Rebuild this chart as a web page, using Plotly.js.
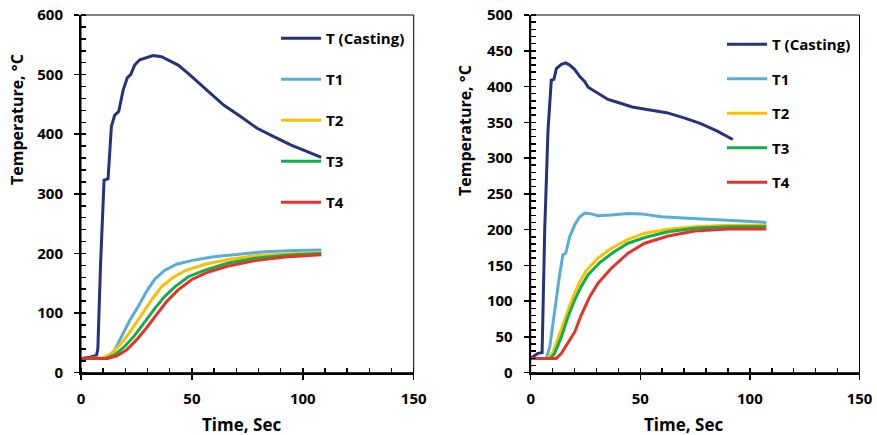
<!DOCTYPE html>
<html>
<head>
<meta charset="utf-8">
<script src="https://cdn.plot.ly/plotly-3.0.1.min.js"></script>
<style>html,body{margin:0;padding:0;background:#fff;}#chart{width:877px;height:435px;}</style>
</head>
<body>
<div id="chart"></div>
<script>
// ---- Data (left chart) ----
var seriesNames = ["T (Casting)", "T1", "T2", "T3", "T4"];
var xTitle = "Time, Sec";
var yTitle = "Temperature, \u00B0C";
var tcL = [0, 4, 7, 7.6, 8.8, 10.4, 12.2, 13, 13.7, 15.2, 17, 19, 20.9, 22.4, 24.2, 26.5, 28.8, 32.5, 36.3, 40, 43.8, 48.3, 52.9, 57.4, 64.3, 71.8, 79.4, 86.9, 94.5, 102, 108.3];
var TcL = [24, 26, 29, 40, 180, 323, 325, 379, 413, 432, 438, 474, 495, 500, 516, 525, 528, 532, 530, 523, 516, 502, 487, 471, 449, 430, 410, 396, 382, 371, 361];
var t1L = [0, 10, 12.2, 15.2, 18.2, 22, 25.8, 29.5, 33.3, 37.8, 43.1, 49.8, 58.9, 70.9, 83, 96.6, 108.3];
var T1L = [24, 24, 26, 38, 60, 88, 111, 136, 157, 172, 182, 188, 194, 199, 203, 205, 206];
var t2L = [0, 10, 13.7, 18.2, 22.7, 27.2, 31.8, 36.3, 40.8, 46.8, 55.9, 66.4, 78.5, 92, 108.3];
var T2L = [24, 25, 32, 49, 72, 97, 122, 144, 158, 171, 182, 190, 196, 199, 201];
var t3L = [0, 11, 15.2, 19.7, 24.3, 28.8, 33.3, 37.8, 42.3, 48.4, 55.9, 66.4, 78.5, 92, 108.3];
var T3L = [24, 24, 30, 44, 63, 86, 108, 128, 144, 161, 172, 184, 192, 197, 200];
var t4L = [0, 12, 16, 20.5, 25, 29.5, 34, 38.5, 43.8, 49.8, 57.4, 66.4, 78.5, 92, 108.3];
var T4L = [24, 24, 28, 38, 55, 75, 97, 119, 139, 156, 169, 179, 188, 194, 198];

// ---- Data (right chart) ----
var tcR = [0, 3.3, 5.2, 6.4, 7.9, 9.4, 10.6, 11.7, 14, 16, 17.8, 20, 22.4, 24.6, 26.2, 30.7, 35.3, 39.5, 46.3, 53, 62, 69.6, 77.3, 84.9, 92.2];
var TcR = [20, 27, 28, 200, 339, 409, 410, 425, 431, 433, 430, 424, 414, 407, 399, 391, 382, 378, 371.5, 368, 363.5, 356.5, 348.6, 338, 326];
var t1R = [0, 7.1, 8.7, 10.9, 13.2, 14.7, 16, 17.8, 20.1, 22.4, 24.6, 27.7, 30.7, 36.8, 44.4, 50.5, 59.6, 71.8, 84, 96.1, 107.5];
var T1R = [20, 20, 36, 88, 137, 165, 167, 190, 207, 218, 223, 222, 219.5, 220.5, 222.5, 222, 218, 216, 214.5, 212, 210];
var t2R = [0, 8, 10.2, 13.2, 16.3, 19.3, 22.4, 25.4, 30.7, 36.8, 44.4, 52, 62.7, 74.8, 90, 107.5];
var T2R = [20, 20, 29, 55, 83, 106, 127, 143, 160, 174, 186.5, 195, 200.5, 204, 206, 206];
var t3R = [0, 9, 10.9, 14, 17, 20.1, 23.1, 26.2, 31.5, 37.6, 44.4, 52, 62.7, 74.8, 90, 107.5];
var T3R = [20, 20, 27, 50, 78, 102, 121, 137, 154, 168, 181, 189, 197, 202, 204, 204];
var t4R = [0, 11.7, 14, 17, 20.1, 23.1, 26.9, 30.7, 36.8, 44.4, 52, 62.7, 74.8, 90, 107.5];
var T4R = [20, 20, 27, 41, 57, 81, 106, 125, 146, 167, 181, 191, 198, 201, 201];

var colors = ["#25337A", "#58ACDC", "#FFBF00", "#10AF4C", "#E4342A"];
var FONT = "'Open Sans', Lato, sans-serif";

function mk(x, y, i, side) {
  return {
    x: x, y: y, type: "scatter", mode: "lines", name: seriesNames[i],
    line: {color: colors[i], width: 3},
    xaxis: side === 0 ? "x" : "x2", yaxis: side === 0 ? "y" : "y2",
    legend: side === 0 ? "legend" : "legend2",
    legendgroup: "g" + side + i
  };
}
var traces = [
  mk(tcL, TcL, 0, 0), mk(t1L, T1L, 1, 0), mk(t2L, T2L, 2, 0), mk(t3L, T3L, 3, 0), mk(t4L, T4L, 4, 0),
  mk(tcR, TcR, 0, 1), mk(t1R, T1R, 1, 1), mk(t2R, T2R, 2, 1), mk(t3R, T3R, 3, 1), mk(t4R, T4R, 4, 1)
];

var tickFont = {family: FONT, size: 15, color: "#000", weight: 700};
var xTitleFont = {family: FONT, size: 17, color: "#000", weight: 700};
var yTitleFont = {family: FONT, size: 16, color: "#000", weight: 700};
var yDom = [1 - 372.7 / 435, 1 - 15 / 435];

function xax(dom, anchor) {
  return {
    domain: dom, anchor: anchor, range: [0, 150], dtick: 50, tick0: 0,
    showgrid: false, zeroline: false, showline: true, linecolor: "#000", linewidth: 2,
    ticks: "outside", ticklen: 5, tickwidth: 1.5, tickcolor: "#000",
    minor: {dtick: 10, ticks: "inside", ticklen: 5, tickwidth: 1.5, tickcolor: "#000"},
    tickfont: tickFont, ticklabelstandoff: 6
  };
}
function yax(dom, anchor, max, dt, mdt) {
  return {
    domain: dom, anchor: anchor, range: [0, max], dtick: dt, tick0: 0,
    showgrid: false, zeroline: false, showline: true, linecolor: "#000", linewidth: 2,
    ticks: "outside", ticklen: 5, tickwidth: 1.5, tickcolor: "#000",
    minor: {dtick: mdt, ticks: "inside", ticklen: 5, tickwidth: 1.5, tickcolor: "#000"},
    tickfont: tickFont, ticklabelstandoff: 8
  };
}
function title(text, cx, cy, rot, font) {
  return {text: text, xref: "paper", yref: "paper", x: cx / 877, y: 1 - cy / 435,
          xanchor: "center", yanchor: "middle", showarrow: false, textangle: rot, font: font};
}

var legFont = {family: FONT, size: 15, color: "#000", weight: 700};
var layout = {
  width: 877, height: 435,
  margin: {l: 0, r: 0, t: 0, b: 0},
  paper_bgcolor: "#fff", plot_bgcolor: "#fff",
  showlegend: true,
  xaxis: xax([81 / 877, 413.7 / 877], "y"),
  yaxis: yax(yDom, "x", 600, 100, 20),
  xaxis2: xax([530.7 / 877, 859.5 / 877], "y2"),
  yaxis2: yax(yDom, "x2", 500, 50, 10),
  legend: {x: 276 / 877, xanchor: "left", y: 1 - 22 / 435, yanchor: "top",
           bgcolor: "rgba(0,0,0,0)", borderwidth: 0, font: legFont,
           tracegroupgap: 18.5, itemwidth: 40, traceorder: "grouped"},
  legend2: {x: 722 / 877, xanchor: "left", y: 1 - 28 / 435, yanchor: "top",
            bgcolor: "rgba(0,0,0,0)", borderwidth: 0, font: legFont,
            tracegroupgap: 12, itemwidth: 40, traceorder: "grouped"},
  annotations: [
    title(xTitle, 241, 424, 0, xTitleFont),
    title(xTitle, 683, 424, 0, xTitleFont),
    title(yTitle, 17, 120, -90, yTitleFont),
    title(yTitle, 465, 131, -90, yTitleFont)
  ],
  shapes: [
    {type: "rect", xref: "x domain", yref: "y domain", x0: 0, x1: 1, y0: 0, y1: 1, line: {color: "#000", width: 1}, layer: "above"},
    {type: "rect", xref: "x2 domain", yref: "y2 domain", x0: 0, x1: 1, y0: 0, y1: 1, line: {color: "#000", width: 1}, layer: "above"}
  ]
};

Plotly.newPlot("chart", traces, layout, {displayModeBar: false, staticPlot: true});
</script>
</body>
</html>
